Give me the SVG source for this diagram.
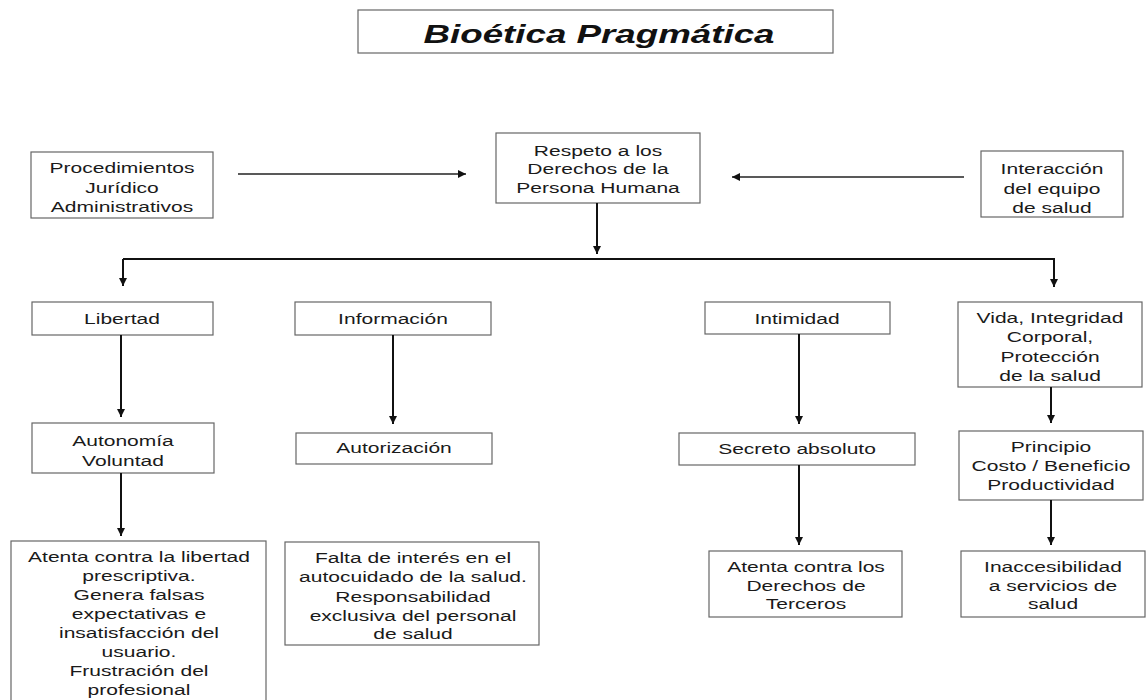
<svg xmlns="http://www.w3.org/2000/svg" width="1148" height="700" viewBox="0 0 1148 700">
<style>
.box{fill:#fff;stroke:#666;stroke-width:1.2}
.t{font-family:"Liberation Sans",Arial,sans-serif;font-size:14.5px;fill:#1a1a1a;text-anchor:middle}
.title{font-family:"Liberation Sans",Arial,sans-serif;font-size:25px;font-weight:bold;font-style:italic;fill:#111;text-anchor:middle}
.c{fill:none;stroke:#111;stroke-width:2}
.cth{fill:none;stroke:#222;stroke-width:1.4}
</style>
<defs>
<marker id="ah" markerUnits="userSpaceOnUse" markerWidth="9" markerHeight="9" refX="8" refY="4" orient="auto">
<path d="M0,0 L8,4 L0,8 z" fill="#111"/>
</marker>
</defs>
<rect width="1148" height="700" fill="#fff"/>

<g id="title">
<rect class="box" x="358" y="10" width="475" height="43"/>
<text class="title" transform="translate(599 0) scale(1.47 1)" x="0" y="43">Bioética Pragmática</text>
</g>

<g id="procedimientos">
<rect class="box" x="31" y="152" width="182" height="66"/>
<text class="t" transform="translate(122 0) scale(1.45 1)"><tspan x="0" y="173">Procedimientos</tspan><tspan x="0" y="193">Jurídico</tspan><tspan x="0" y="212">Administrativos</tspan></text>
</g>

<g id="respeto">
<rect class="box" x="496" y="133" width="204" height="70"/>
<text class="t" transform="translate(598 0) scale(1.45 1)"><tspan x="0" y="156">Respeto a los</tspan><tspan x="0" y="174">Derechos de la</tspan><tspan x="0" y="193">Persona Humana</tspan></text>
</g>

<g id="interaccion">
<rect class="box" x="981" y="151" width="142" height="66"/>
<text class="t" transform="translate(1052 0) scale(1.45 1)"><tspan x="0" y="174">Interacción</tspan><tspan x="0" y="194">del equipo</tspan><tspan x="0" y="213">de salud</tspan></text>
</g>

<g id="libertad">
<rect class="box" x="32" y="302" width="181" height="33"/>
<text class="t" transform="translate(122 0) scale(1.45 1)" x="0" y="324">Libertad</text>
</g>

<g id="informacion">
<rect class="box" x="295" y="302" width="196" height="33"/>
<text class="t" transform="translate(393 0) scale(1.45 1)" x="0" y="324">Información</text>
</g>

<g id="intimidad">
<rect class="box" x="705" y="302" width="185" height="32"/>
<text class="t" transform="translate(797 0) scale(1.45 1)" x="0" y="324">Intimidad</text>
</g>

<g id="vida">
<rect class="box" x="958" y="302" width="184" height="85"/>
<text class="t" transform="translate(1050 0) scale(1.45 1)"><tspan x="0" y="323">Vida, Integridad</tspan><tspan x="0" y="342">Corporal,</tspan><tspan x="0" y="362">Protección</tspan><tspan x="0" y="381">de la salud</tspan></text>
</g>

<g id="autonomia">
<rect class="box" x="32" y="423" width="182" height="50"/>
<text class="t" transform="translate(123 0) scale(1.45 1)"><tspan x="0" y="446">Autonomía</tspan><tspan x="0" y="466">Voluntad</tspan></text>
</g>

<g id="autorizacion">
<rect class="box" x="296" y="433" width="196" height="31"/>
<text class="t" transform="translate(394 0) scale(1.45 1)" x="0" y="453">Autorización</text>
</g>

<g id="secreto">
<rect class="box" x="679" y="433" width="236" height="32"/>
<text class="t" transform="translate(797 0) scale(1.45 1)" x="0" y="454">Secreto absoluto</text>
</g>

<g id="principio">
<rect class="box" x="959" y="431" width="184" height="69"/>
<text class="t" transform="translate(1051 0) scale(1.45 1)"><tspan x="0" y="452">Principio</tspan><tspan x="0" y="471">Costo / Beneficio</tspan><tspan x="0" y="490">Productividad</tspan></text>
</g>

<g id="atenta-libertad">
<rect class="box" x="11" y="541" width="255" height="170"/>
<text class="t" transform="translate(139 0) scale(1.45 1)"><tspan x="0" y="562">Atenta contra la libertad</tspan><tspan x="0" y="581">prescriptiva.</tspan><tspan x="0" y="600">Genera falsas</tspan><tspan x="0" y="619">expectativas e</tspan><tspan x="0" y="638">insatisfacción del</tspan><tspan x="0" y="657">usuario.</tspan><tspan x="0" y="676">Frustración del</tspan><tspan x="0" y="695">profesional</tspan></text>
</g>

<g id="falta-interes">
<rect class="box" x="285" y="542" width="254" height="103"/>
<text class="t" transform="translate(413 0) scale(1.45 1)"><tspan x="0" y="563">Falta de interés en el</tspan><tspan x="0" y="582">autocuidado de la salud.</tspan><tspan x="0" y="602">Responsabilidad</tspan><tspan x="0" y="621">exclusiva del personal</tspan><tspan x="0" y="639">de salud</tspan></text>
</g>

<g id="atenta-terceros">
<rect class="box" x="709" y="551" width="193" height="66"/>
<text class="t" transform="translate(806 0) scale(1.45 1)"><tspan x="0" y="572">Atenta contra los</tspan><tspan x="0" y="591">Derechos de</tspan><tspan x="0" y="609">Terceros</tspan></text>
</g>

<g id="inaccesibilidad">
<rect class="box" x="961" y="551" width="184" height="66"/>
<text class="t" transform="translate(1053 0) scale(1.45 1)"><tspan x="0" y="572">Inaccesibilidad</tspan><tspan x="0" y="591">a servicios de</tspan><tspan x="0" y="609">salud</tspan></text>
</g>

<g id="connectors">
<line class="cth" x1="238" y1="174" x2="466" y2="174" marker-end="url(#ah)"/>
<line class="cth" x1="964" y1="177" x2="732" y2="177" marker-end="url(#ah)"/>
<line class="c" x1="597" y1="203" x2="597" y2="254" marker-end="url(#ah)"/>
<polyline class="c" points="123,259 1054,259 1054,287" marker-end="url(#ah)"/>
<line class="c" x1="123" y1="259" x2="123" y2="286" marker-end="url(#ah)"/>
<line class="c" x1="121" y1="335" x2="121" y2="417" marker-end="url(#ah)"/>
<line class="c" x1="393" y1="335" x2="393" y2="424" marker-end="url(#ah)"/>
<line class="c" x1="121" y1="473" x2="121" y2="536" marker-end="url(#ah)"/>
<line class="c" x1="799" y1="334" x2="799" y2="424" marker-end="url(#ah)"/>
<line class="c" x1="1051" y1="387" x2="1051" y2="423" marker-end="url(#ah)"/>
<line class="c" x1="799" y1="465" x2="799" y2="545" marker-end="url(#ah)"/>
<line class="c" x1="1051" y1="500" x2="1051" y2="545" marker-end="url(#ah)"/>
</g>
</svg>
